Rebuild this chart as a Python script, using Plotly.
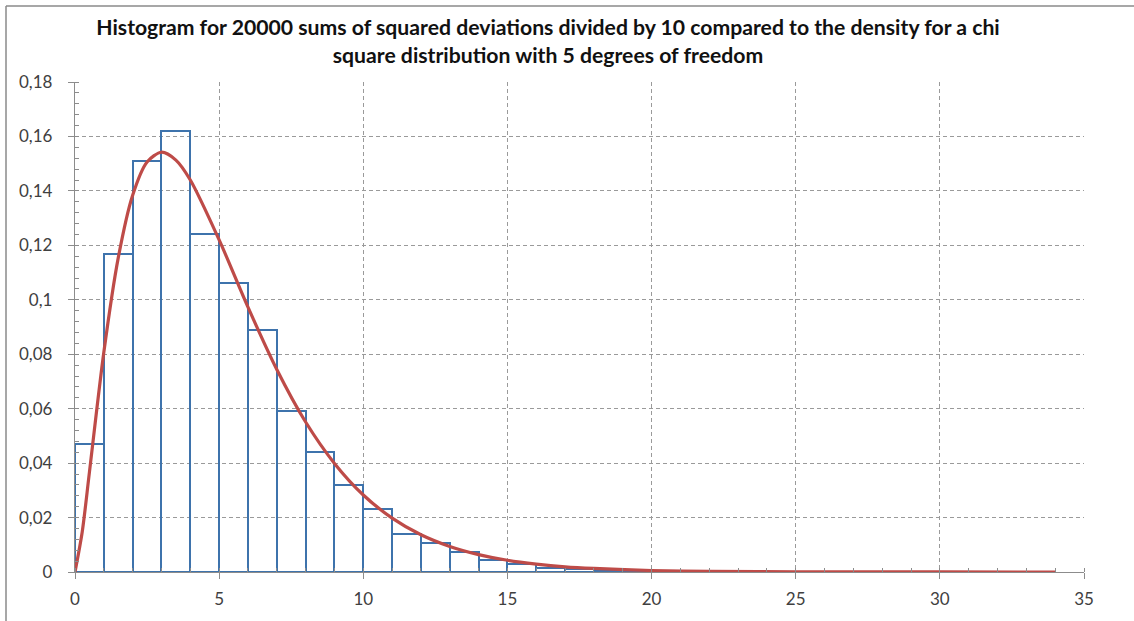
import plotly.graph_objects as go

# Histogram bins (left edges) and relative frequencies
bin_left = list(range(0, 34))
bin_height = [0.047, 0.117, 0.151, 0.162, 0.124, 0.106, 0.089, 0.059, 0.044, 0.032,
              0.023, 0.014, 0.0105, 0.0073, 0.0045, 0.0029, 0.0016, 0.0011, 0.0008, 0.0005,
              0.0003, 0.0002, 0.00015, 0.0001, 0.00008, 0.00005, 0.00004, 0.00003, 0.00002, 0.00002,
              0.00001, 0.00001, 0.00001, 0.00001]

# Density curve points
curve_x = [0, 0.25, 0.5, 1, 1.5, 2, 2.5, 3, 3.5, 4, 5, 6, 7, 8, 9, 10, 11, 12, 13, 14,
           15, 16, 17, 18, 20, 22, 25, 30, 34]
curve_y = [0, 0.0147, 0.0366, 0.0807, 0.1154, 0.1384, 0.1506, 0.1542, 0.1513, 0.1440,
           0.1220, 0.0973, 0.0744, 0.0551, 0.0399, 0.0283, 0.0198, 0.0137, 0.0094, 0.0064,
           0.0043, 0.0029, 0.0019, 0.0013, 0.00054, 0.00023, 0.00006, 0.00001, 0.0]

y_ticks = [0, 0.02, 0.04, 0.06, 0.08, 0.1, 0.12, 0.14, 0.16, 0.18]
y_labels = ["0", "0,02", "0,04", "0,06", "0,08", "0,1", "0,12", "0,14", "0,16", "0,18"]
x_ticks = [0, 5, 10, 15, 20, 25, 30, 35]

title_text = ("Histogram for 20000 sums of squared deviations divided by 10 compared to the density for a chi"
              "<br>square distribution with 5 degrees of freedom")

W, H = 1134, 621
ML, MR, MT, MB = 75, 50, 82, 49

fig = go.Figure()
fig.add_trace(go.Bar(
    x=[b + 0.5 for b in bin_left], y=bin_height, width=1,
    marker=dict(color="rgba(255,255,255,0)", line=dict(color="#3E73AC", width=2)),
    showlegend=False, hoverinfo="x+y",
))
fig.add_trace(go.Scatter(
    x=curve_x, y=curve_y, mode="lines",
    line=dict(color="#BE4B48", width=3.2, shape="spline", smoothing=0.8),
    showlegend=False,
))

axis_col = "#8C8C8C"
grid_col = "#9A9A9A"
fig.update_xaxes(
    range=[0, 35], tickvals=x_ticks, showgrid=True, gridcolor=grid_col, griddash="4px,3px", gridwidth=1,
    showline=True, linecolor=axis_col, linewidth=1.3, zeroline=False,
    ticks="outside", ticklen=6, tickcolor=axis_col, ticklabelstandoff=5,
    minor=dict(dtick=1, ticks="inside", ticklen=4, tickcolor=axis_col, showgrid=False),
    tickfont=dict(family="Lato", size=17, color="#404040"),
)
fig.update_yaxes(
    range=[0, 0.18], tickvals=y_ticks, ticktext=y_labels, showgrid=True, gridcolor=grid_col,
    griddash="4px,3px", gridwidth=1,
    showline=True, linecolor=axis_col, linewidth=1.3, zeroline=False,
    ticks="outside", ticklen=6, tickcolor=axis_col, ticklabelstandoff=12,
    minor=dict(dtick=0.004, ticks="inside", ticklen=4, tickcolor=axis_col, showgrid=False),
    tickfont=dict(family="Lato", size=17, color="#404040"),
)

pw = W - ML - MR
ph = H - MT - MB
# outer chart frame (top and left edges visible)
fx0 = (6 - ML) / pw
fy1 = (H - MB - 6) / ph
fig.add_shape(type="line", xref="paper", yref="paper", x0=fx0, x1=(W - ML) / pw + 0.01, y0=fy1, y1=fy1,
              line=dict(color="#8A8A8A", width=1.5))
fig.add_shape(type="line", xref="paper", yref="paper", x0=fx0, x1=fx0, y0=-MB / ph - 0.01, y1=fy1,
              line=dict(color="#8A8A8A", width=1.5))

fig.update_layout(
    width=W, height=H,
    margin=dict(l=ML, r=MR, t=MT, b=MB),
    paper_bgcolor="white", plot_bgcolor="white",
    bargap=0,
    title=dict(text=title_text, x=(548 - ML) / pw, xref="paper", xanchor="center",
               y=1 - 35 / H, yanchor="top",
               font=dict(family="Lato", size=21.2, color="#111111", weight="bold")),
)

fig.write_html("out.html", config={"displayModeBar": False},
               post_script="document.body.style.margin='0';")
